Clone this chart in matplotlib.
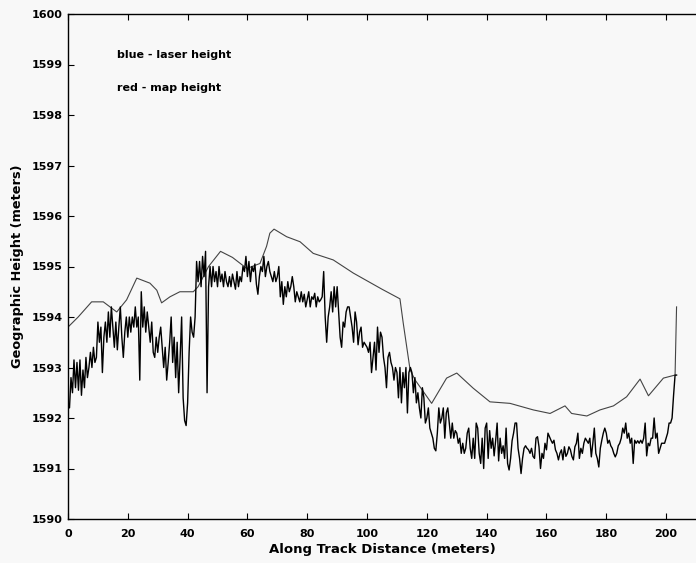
import numpy as np
import matplotlib
matplotlib.use("Agg")
from matplotlib import pyplot as plt

plt.rcParams['font.family'] = ['DejaVu Sans']

laser_step = 0.5
laser_height = [
    # 0 - 10 m
    1592.3, 1592.2, 1592.8, 1592.5, 1593.15, 1592.6, 1593.1, 1592.55, 1593.15, 1592.45,
    1592.95, 1592.6, 1593.2, 1592.8, 1593.0, 1593.3, 1593.0, 1593.4, 1593.1, 1593.2,
    # 10 - 20
    1593.9, 1593.5, 1593.8, 1592.9, 1593.6, 1593.9, 1593.5, 1594.1, 1593.6, 1594.2,
    1593.8, 1593.4, 1593.9, 1593.35, 1593.8, 1594.2, 1593.6, 1593.2, 1593.7, 1594.0,
    # 20 - 30
    1593.6, 1594.0, 1593.7, 1594.0, 1593.8, 1594.2, 1593.8, 1594.0, 1592.75, 1594.5,
    1593.8, 1594.2, 1593.7, 1594.1, 1593.8, 1593.5, 1593.9, 1593.3, 1593.2, 1593.6,
    # 30 - 40
    1593.3, 1593.6, 1593.8, 1593.4, 1593.0, 1593.4, 1592.75, 1593.1, 1593.5, 1594.0,
    1593.1, 1593.6, 1592.8, 1593.5, 1592.5, 1593.2, 1594.0, 1592.4, 1591.95, 1591.85,
    # 40 - 50
    1592.3, 1593.3, 1594.0, 1593.7, 1593.6, 1594.0, 1595.1, 1594.7, 1595.1, 1594.6,
    1595.2, 1594.8, 1595.3, 1592.5, 1594.6, 1595.0, 1594.6, 1595.0, 1594.7, 1594.9,
    # 50 - 60
    1594.6, 1595.0, 1594.7, 1594.85, 1594.6, 1594.9, 1594.7, 1594.6, 1594.8, 1594.6,
    1594.85, 1594.7, 1594.55, 1594.9, 1594.6, 1594.8, 1594.7, 1595.0, 1594.9, 1595.2,
    # 60 - 70
    1594.8, 1595.1, 1594.7, 1595.0, 1594.9, 1595.05, 1594.65, 1594.45, 1594.8, 1595.0,
    1594.9, 1595.2, 1594.8, 1595.0, 1595.1, 1594.9, 1594.8, 1594.7, 1594.9, 1594.7,
    # 70 - 80
    1594.8, 1595.0, 1594.4, 1594.7, 1594.25, 1594.6, 1594.4, 1594.7, 1594.5, 1594.6,
    1594.8, 1594.6, 1594.3, 1594.5, 1594.4, 1594.3, 1594.5, 1594.3, 1594.45, 1594.2,
    # 80 - 90
    1594.35, 1594.5, 1594.2, 1594.4, 1594.35, 1594.47, 1594.2, 1594.4, 1594.3, 1594.34,
    1594.4, 1594.9, 1594.0, 1593.5, 1594.0, 1594.2, 1594.5, 1594.1, 1594.6, 1594.2,
    # 90 - 100
    1594.6, 1594.1, 1593.6, 1593.4, 1593.9, 1593.8, 1594.1, 1594.2, 1594.2, 1594.0,
    1593.8, 1593.5, 1594.1, 1593.9, 1593.45, 1593.7, 1593.8, 1593.4, 1593.5, 1593.45,
    # 100 - 110
    1593.4, 1593.3, 1593.5, 1592.9, 1593.2, 1593.5, 1592.95, 1593.8, 1593.3, 1593.7,
    1593.6, 1593.2, 1593.0, 1592.6, 1593.2, 1593.3, 1593.1, 1593.0, 1592.75, 1593.0,
    # 110 - 120
    1592.9, 1592.4, 1593.0, 1592.3, 1592.9, 1592.6, 1593.0, 1592.1, 1592.9, 1593.0,
    1592.9, 1592.5, 1592.8, 1592.3, 1592.5, 1592.2, 1592.0, 1592.6, 1592.4, 1591.9,
    # 120 - 130
    1592.0, 1592.2, 1591.8, 1591.7, 1591.6, 1591.4, 1591.35, 1591.7, 1592.2, 1591.9,
    1592.0, 1592.2, 1591.6, 1592.1, 1592.2, 1591.9, 1591.6, 1591.9, 1591.6, 1591.75,
    # 130 - 140
    1591.7, 1591.5, 1591.6, 1591.3, 1591.5, 1591.3, 1591.4, 1591.7, 1591.8, 1591.4,
    1591.2, 1591.6, 1591.2, 1591.9, 1591.8, 1591.3, 1591.1, 1591.6, 1591.0, 1591.8,
    # 140 - 150
    1591.9, 1591.2, 1591.75, 1591.4, 1591.6, 1591.25, 1591.55, 1591.9, 1591.15, 1591.6,
    1591.3, 1591.45, 1591.2, 1591.8, 1591.1, 1590.97, 1591.2, 1591.55, 1591.7, 1591.9,
    # 150 - 160
    1591.9, 1591.4, 1591.2, 1590.9, 1591.2, 1591.4, 1591.45, 1591.4, 1591.37, 1591.3,
    1591.4, 1591.24, 1591.2, 1591.6, 1591.63, 1591.43, 1591.0, 1591.3, 1591.2, 1591.5,
    # 160 - 170
    1591.37, 1591.7, 1591.63, 1591.56, 1591.5, 1591.56, 1591.37, 1591.3, 1591.17, 1591.3,
    1591.37, 1591.17, 1591.43, 1591.24, 1591.3, 1591.43, 1591.37, 1591.24, 1591.17, 1591.43,
    # 170 - 180
    1591.5, 1591.7, 1591.2, 1591.4, 1591.3, 1591.5, 1591.6, 1591.55, 1591.5, 1591.6,
    1591.23, 1591.5, 1591.8, 1591.3, 1591.2, 1591.03, 1591.4, 1591.56, 1591.7, 1591.8,
    # 180 - 190
    1591.7, 1591.5, 1591.56, 1591.45, 1591.4, 1591.3, 1591.23, 1591.3, 1591.45, 1591.5,
    1591.6, 1591.8, 1591.7, 1591.9, 1591.6, 1591.7, 1591.5, 1591.6, 1591.1, 1591.56,
    # 190 - 200
    1591.5, 1591.55, 1591.5, 1591.56, 1591.5, 1591.6, 1591.9, 1591.25, 1591.5, 1591.45,
    1591.6, 1591.6, 1592.0, 1591.6, 1591.7, 1591.3, 1591.4, 1591.5, 1591.5, 1591.5,
    # 200 - 203.5
    1591.6, 1591.7, 1591.9, 1591.9, 1592.0, 1592.45, 1592.85, 1592.85,
]

# map height (smooth upper curve)
map_x = [0, 3.4, 7.9, 11.8, 16.3, 19.6, 23.0, 27.4, 29.7, 31.3, 34.1, 37.4, 41.9, 43.5,
         47.0, 51.0, 55.0, 59.8, 64.2, 66.4, 67.5, 68.9, 73.1, 77.6, 82.0, 88.7, 95.4,
         100.5, 105.0, 111.0, 112.1, 114.4, 116.1, 118.5, 121.6, 126.6, 130.0, 135.5,
         141.1, 147.8, 155.6, 161.2, 166.2, 168.4, 173.5, 177.9, 182.4, 186.8, 191.3,
         194.1, 199.1, 203.0, 203.5]
map_height = [1593.8, 1594.0, 1594.3, 1594.3, 1594.1, 1594.34, 1594.77, 1594.67, 1594.53,
              1594.28, 1594.4, 1594.5, 1594.5, 1594.6, 1595.0, 1595.3, 1595.18, 1594.96,
              1595.06, 1595.4, 1595.66, 1595.74, 1595.59, 1595.49, 1595.26, 1595.13,
              1594.87, 1594.7, 1594.55, 1594.36, 1593.88, 1592.95, 1592.75, 1592.55,
              1592.29, 1592.79, 1592.89, 1592.59, 1592.32, 1592.29, 1592.16, 1592.09,
              1592.24, 1592.09, 1592.04, 1592.16, 1592.24, 1592.42, 1592.77, 1592.44,
              1592.79, 1592.85, 1594.2]

x_ticks = list(range(0, 201, 20))
y_ticks = list(range(1590, 1601))

laser_x = np.arange(len(laser_height)) * laser_step

fig = plt.figure(figsize=(6.96, 5.63), dpi=100, facecolor='#f8f8f8')
ax = fig.add_axes([68 / 696, 44 / 563, 628 / 696, 505 / 563])
ax.set_facecolor('#f8f8f8')

ax.plot(map_x, map_height, color='#444444', lw=0.8)
ax.plot(laser_x, laser_height, color='black', lw=1.0)

ax.set_xlim(0, 210)
ax.set_ylim(1590, 1600)
ax.set_xticks(x_ticks)
ax.set_yticks(y_ticks)
ax.spines['right'].set_visible(False)
for s in ['left', 'bottom', 'top']:
    ax.spines[s].set_linewidth(1.0)
ax.tick_params(direction='in', length=4, width=0.8, top=True, labelsize=8)
ax.tick_params(axis='x', pad=7)
ax.tick_params(axis='y', pad=4)
for lab in ax.get_xticklabels() + ax.get_yticklabels():
    lab.set_fontweight('bold')

ax.set_xlabel('Along Track Distance (meters)', fontsize=9.5, fontweight='bold', labelpad=3)
ax.set_ylabel('Geographic Height (meters)', fontsize=9.3, fontweight='bold', labelpad=5)

ax.text(16.4, 1599.19, 'blue - laser height', fontsize=8, fontweight='bold', va='center')
ax.text(16.4, 1598.53, 'red - map height', fontsize=8, fontweight='bold', va='center')

fig.savefig('out.png', dpi=100, facecolor=fig.get_facecolor())
